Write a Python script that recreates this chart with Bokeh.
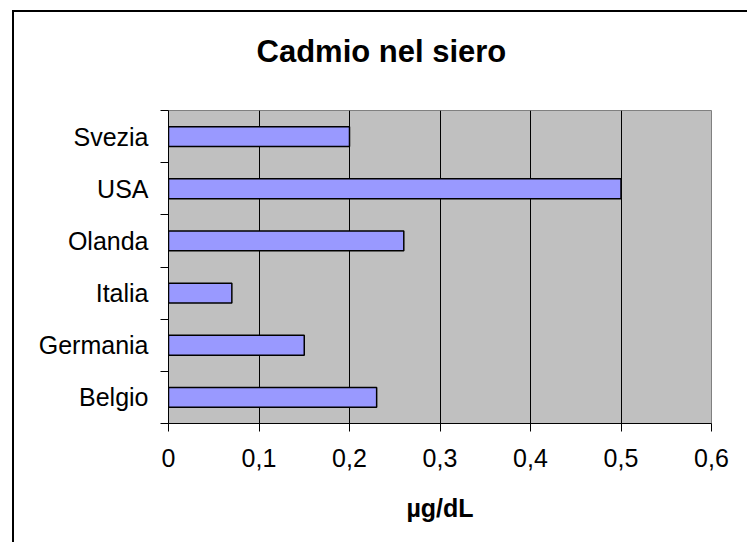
from bokeh.plotting import figure
from bokeh.models import Range1d, FixedTicker, CustomJSTickFormatter, LinearAxis
from bokeh.embed import file_html
from bokeh.resources import INLINE

# ---- data ----
categories = ["Belgio", "Germania", "Italia", "Olanda", "USA", "Svezia"]
values = [0.23, 0.15, 0.07, 0.26, 0.50, 0.20]
x_ticks = [0, 0.1, 0.2, 0.3, 0.4, 0.5, 0.6]
title_text = "Cadmio nel siero"
x_label = "µg/dL"

FONT = "Liberation Sans"
W, H = 735, 532

n = len(categories)
centers = [i + 0.5 for i in range(n)]
bounds = [float(i) for i in range(n + 1)]

p = figure(width=W, height=H, output_backend="svg", toolbar_location=None,
           x_range=Range1d(x_ticks[0], x_ticks[-1]), y_range=Range1d(0, n),
           min_border_left=154, min_border_right=W - 697,
           min_border_top=98, min_border_bottom=H - 411)

# place the figure inside the chart-area frame (only its top/left edges are in the window)
p.margin = (12, 0, 0, 14)
p.styles = {"box-shadow": "-2px -2px 0px 0px black"}

p.title.text = title_text
p.title.align = "left"
p.title.offset = 88
p.title.standoff = 36
p.title.text_font = FONT
p.title.text_font_size = "31px"
p.title.text_font_style = "bold"
p.title.text_color = "black"

# invisible spacer between the title and the plot area
spacer = LinearAxis(ticker=FixedTicker(ticks=[x_ticks[3]], minor_ticks=[]),
                    major_tick_out=24, major_tick_in=0, minor_tick_out=0, minor_tick_in=0,
                    major_label_standoff=0, major_label_text_font_size="1px",
                    major_label_text_alpha=0, major_label_overrides={x_ticks[3]: " "},
                    axis_line_color=None, major_tick_line_color=None,
                    minor_tick_line_color=None)
p.add_layout(spacer, "above")

p.background_fill_color = "#C0C0C0"
p.border_fill_color = "white"
p.outline_line_color = "#808080"
p.outline_line_width = 1

p.hbar(y=centers, right=values, left=0, height=0.38,
       fill_color="#9999FF", line_color="black", line_width=1.5)

# grid
p.ygrid.visible = False
p.xgrid.ticker = FixedTicker(ticks=x_ticks[1:-1])
p.xgrid.grid_line_color = "black"
p.xgrid.grid_line_width = 1

# x axis
xa = p.below[0]
xa.ticker = FixedTicker(ticks=x_ticks, minor_ticks=[])
xa.formatter = CustomJSTickFormatter(code="""
return tick == 0 ? "0" : tick.toFixed(1).replace(".", ",");
""")
xa.axis_line_color = "black"
xa.major_tick_out = 8
xa.major_tick_in = 0
xa.major_tick_line_color = "black"
xa.major_label_text_font = FONT
xa.major_label_text_font_size = "25px"
xa.major_label_text_color = "black"
xa.major_label_standoff = 17
xa.axis_label = x_label
xa.axis_label_text_font = FONT
xa.axis_label_text_font_size = "25px"
xa.axis_label_text_font_style = "bold"
xa.axis_label_text_color = "black"
xa.axis_label_standoff = 24

# y axis
ya = p.left[0]
ya.ticker = FixedTicker(ticks=centers, minor_ticks=bounds)
ya.major_label_overrides = {c: lab for c, lab in zip(centers, categories)}
ya.axis_line_color = "black"
ya.major_tick_out = 0
ya.major_tick_in = 0
ya.minor_tick_out = 8
ya.minor_tick_in = 0
ya.minor_tick_line_color = "black"
ya.major_label_text_font = FONT
ya.major_label_text_font_size = "25px"
ya.major_label_text_color = "black"
ya.major_label_standoff = 12

open("out.html", "w").write(file_html(p, INLINE))
